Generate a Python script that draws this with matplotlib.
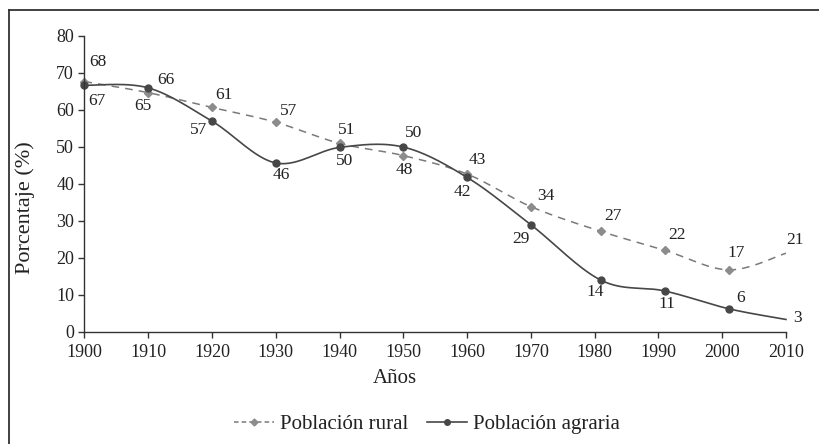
import numpy as np
import matplotlib.pyplot as plt
from matplotlib.lines import Line2D

# census years and shares (%)
years = [1900, 1910, 1920, 1930, 1940, 1950, 1960, 1970, 1981, 1991, 2001, 2010]
rural = [67.6, 64.6, 60.6, 56.6, 50.9, 47.6, 42.6, 33.8, 27.1, 22.0, 16.7, 21.2]
agraria = [66.6, 65.9, 56.9, 45.6, 49.8, 49.9, 41.7, 28.9, 13.9, 11.0, 6.2, 3.3]
rural_labels = ['68', '65', '61', '57', '51', '48', '43', '34', '27', '22', '17', '21']
agraria_labels = ['67', '66', '57', '46', '50', '50', '42', '29', '14', '11', '6', '3']

# label offsets in pixels (dx, dy with y downwards)
rural_off = [(13, -20), (-5, 13), (12, -12), (13, -11), (7, -13), (1, 14),
             (10, -14), (15, -11), (12, -15), (12, -15), (8, -17), (9, -13)]
agraria_off = [(12, 16), (18, -8), (-13, 9), (6, 12), (5, 14), (10, -14),
               (-5, 15), (-10, 14), (-6, 12), (2, 13), (12, -11), (12, -1)]


def smooth(x, y, n=30):
    # excel-like smoothed line: bezier segments with catmull-rom control points
    p = np.column_stack([x, y]).astype(float)
    ext = np.vstack([p[0], p, p[-1]])
    out = []
    for i in range(len(p) - 1):
        p0, p1 = ext[i + 1], ext[i + 2]
        c1 = p0 + (ext[i + 2] - ext[i]) / 6
        c2 = p1 - (ext[i + 3] - ext[i + 1]) / 6
        t = np.linspace(0, 1, n)[:, None]
        seg = ((1 - t) ** 3) * p0 + 3 * ((1 - t) ** 2) * t * c1 + 3 * (1 - t) * t ** 2 * c2 + t ** 3 * p1
        out.append(seg if i == 0 else seg[1:])
    s = np.vstack(out)
    return s[:, 0], s[:, 1]


plt.rcParams['font.family'] = ['Liberation Serif', 'DejaVu Serif']
txt = '#222222'
c_rural = '#7a7a7a'
c_agr = '#474747'

fig = plt.figure(figsize=(8.2, 4.44), dpi=100)
ax = fig.add_axes([0.103, 0.253, 0.8555, 0.6666])

sx, sy = smooth(years, rural)
ax.plot(sx, sy, color=c_rural, lw=1.1, ls=(0, (5, 4)), clip_on=False)
ax.plot(years[:-1], rural[:-1], ls='none', marker='D', ms=4, color='#8c8c8c', clip_on=False)

sx, sy = smooth(years, agraria)
ax.plot(sx, sy, color=c_agr, lw=1.2, clip_on=False)
ax.plot(years[:-1], agraria[:-1], ls='none', marker='o', ms=5, color=c_agr, clip_on=False)

px = 0.72  # points per pixel
for yr, v, lab, (dx, dy) in zip(years, rural, rural_labels, rural_off):
    ax.annotate(lab, (yr, v), xytext=(dx * px, -dy * px), textcoords='offset points',
                ha='center', va='center', fontsize=12.5, color=txt)
for yr, v, lab, (dx, dy) in zip(years, agraria, agraria_labels, agraria_off):
    ax.annotate(lab, (yr, v), xytext=(dx * px, -dy * px), textcoords='offset points',
                ha='center', va='center', fontsize=12.5, color=txt)

ax.set_xlim(1900, 2010)
ax.set_ylim(0, 80)
ax.set_xticks(range(1900, 2011, 10))
ax.set_yticks(range(0, 81, 10))
ax.spines[['top', 'right']].set_visible(False)
for s in ['left', 'bottom']:
    ax.spines[s].set_color('#333333')
    ax.spines[s].set_linewidth(1.0)
ax.tick_params(direction='out', length=4, width=1, color='#333333', labelsize=13,
               labelcolor=txt)
ax.tick_params(axis='x', pad=5)
ax.set_xlabel('Años', fontsize=15, color=txt)
ax.set_ylabel('Porcentaje (%)', fontsize=16, color=txt)
ax.xaxis.set_label_coords(0.442, -0.126)
ax.yaxis.set_label_coords(-0.0706, 0.418)

handles = [
    Line2D([], [], color=c_rural, lw=1.1, ls=(0, (3, 2)), marker='D', ms=3.5, markerfacecolor='#8c8c8c',
           markeredgecolor='#8c8c8c'),
    Line2D([], [], color=c_agr, lw=1.2, marker='o', ms=4, markerfacecolor=c_agr),
]
fig.legend(handles, ['Población rural', 'Población agraria'], loc='center', bbox_to_anchor=(0.521, 0.045),
           ncol=2, frameon=False, fontsize=15, handlelength=1.9, handletextpad=0.3,
           columnspacing=0.9, labelcolor=txt)

# frame around the figure (top and left only)
fig.add_artist(Line2D([9 / 820, 1], [1 - 10 / 444, 1 - 10 / 444], color='#333333', lw=1.3))
fig.add_artist(Line2D([9 / 820, 9 / 820], [0, 1 - 10 / 444], color='#333333', lw=1.3))

fig.savefig('out.png', dpi=100)
